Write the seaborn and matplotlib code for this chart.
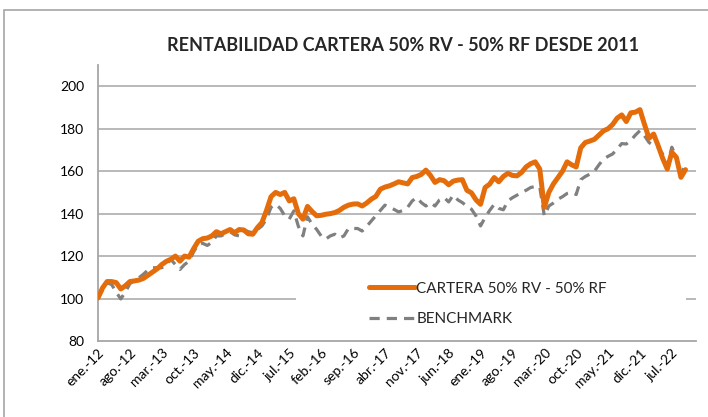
import numpy as np
import pandas as pd
import matplotlib
matplotlib.use('Agg')
import matplotlib.pyplot as plt
from matplotlib.patches import Rectangle
from matplotlib.lines import Line2D
import seaborn as sns

# valores mensuales (base 100 en ene-12)
cartera = [
    100.3, 105.0, 108.0, 108.0, 107.5, 104.5, 106.0, 108.0, 108.3, 108.7,
    109.5, 111.0, 112.5, 114.0, 116.0, 117.5, 118.5, 120.0, 117.6, 120.0,
    119.5, 123.5, 127.0, 128.2, 128.5, 129.5, 131.5, 130.5, 131.5, 132.5,
    131.0, 132.5, 132.3, 130.5, 130.3, 133.4, 135.8, 141.5, 148.0, 150.0,
    149.0, 150.0, 146.0, 147.0, 140.0, 137.4, 143.4, 141.0, 139.0, 139.2,
    139.7, 140.0, 140.5, 141.5, 143.0, 144.0, 144.5, 144.6, 143.6, 145.0,
    146.8, 148.1, 151.5, 152.5, 153.1, 154.0, 155.0, 154.5, 154.0, 157.0,
    157.5, 158.5, 160.5, 158.0, 154.7, 156.0, 155.5, 153.6, 155.3, 155.8,
    156.0, 151.0, 149.8, 146.5, 144.4, 152.3, 153.9, 157.0, 155.0, 157.5,
    159.0, 158.0, 157.8, 159.4, 162.0, 163.5, 164.4, 161.0, 143.0, 150.0,
    154.0, 157.0, 160.0, 164.4, 163.0, 162.0, 171.0, 173.5, 174.2, 175.0,
    177.0, 179.0, 180.0, 182.0, 185.0, 186.5, 183.4, 187.5, 187.8, 189.0,
    182.0, 175.5, 177.5, 172.0, 166.0, 161.0, 168.9, 166.5, 157.1, 160.7,
]

benchmark = [
    100.0, 104.0, 107.4, 106.6, 103.0, 99.8, 103.0, 107.0, 108.5, 109.8,
    111.5, 113.5, 114.5, 114.5, 114.5, 116.0, 118.4, 116.0, 113.7, 116.0,
    117.6, 122.0, 125.5, 126.0, 125.0, 126.5, 129.5, 129.5, 130.5, 131.5,
    130.0, 129.5, 132.5, 131.5, 131.0, 132.5, 134.2, 137.5, 143.0, 144.4,
    142.5, 139.0, 137.4, 141.3, 134.0, 129.5, 138.5, 135.0, 132.6, 129.5,
    128.0, 129.5, 130.3, 128.5, 129.5, 133.0, 133.0, 133.0, 131.8, 134.0,
    136.5, 139.0, 141.5, 144.0, 143.0, 142.0, 140.8, 141.5, 143.0, 146.0,
    147.6, 145.2, 143.6, 145.2, 143.6, 146.5, 147.6, 145.5, 148.7, 146.5,
    145.2, 143.5, 142.1, 138.9, 134.2, 138.2, 141.5, 144.4, 142.5, 141.8,
    146.0, 147.5, 148.7, 150.0, 151.0, 152.3, 152.8, 152.5, 139.0, 143.6,
    145.0, 146.8, 148.0, 149.5, 150.0, 149.0, 156.0, 157.5, 158.6, 160.0,
    163.0, 165.7, 167.0, 168.1, 170.5, 173.0, 172.8, 174.5, 177.0, 179.1,
    176.7, 173.5, 172.0, 171.3, 168.0, 162.6, 171.3, 166.5, 157.8, 164.1,
]

tick_labels = ['ene.-12', 'ago.-12', 'mar.-13', 'oct.-13', 'may.-14', 'dic.-14',
               'jul.-15', 'feb.-16', 'sep.-16', 'abr.-17', 'nov.-17', 'jun.-18',
               'ene.-19', 'ago.-19', 'mar.-20', 'oct.-20', 'may.-21', 'dic.-21',
               'jul.-22']

sns.set_style('white')
plt.rcParams['font.family'] = ['Lato', 'DejaVu Sans']

df = pd.DataFrame({'mes': np.arange(len(cartera)),
                   'cartera': cartera, 'benchmark': benchmark})

fig = plt.figure(figsize=(7.08, 4.17), dpi=100)
ax = fig.add_axes([0.1384, 0.1823, 0.8446, 0.6617])

naranja = '#E46C0A'
gris = '#808080'

sns.lineplot(data=df, x='mes', y='benchmark', ax=ax, color=gris, lw=2.3,
             linestyle=(0, (3.2, 2.2)), zorder=3)
sns.lineplot(data=df, x='mes', y='cartera', ax=ax, color=naranja, lw=3.6,
             solid_capstyle='round', zorder=4)

ax.set_xlim(0, 131.3)
ax.set_ylim(80, 210)
ax.set_yticks(range(80, 201, 20))
ax.set_xticks(np.arange(0, 7 * len(tick_labels), 7))
ax.set_xticklabels(tick_labels, rotation=45, ha='right', rotation_mode='anchor')
ax.tick_params(axis='both', length=0, labelsize=10, colors='black')
ax.tick_params(axis='x', pad=4)
ax.tick_params(axis='y', pad=10)
ax.set_xlabel('')
ax.set_ylabel('')

for v in range(100, 201, 20):
    ax.axhline(v, color='#a6a6a6', lw=1.1, zorder=1)
for s in ['top', 'right']:
    ax.spines[s].set_visible(False)
for s in ['left', 'bottom']:
    ax.spines[s].set_color('#a6a6a6')
    ax.spines[s].set_linewidth(1.3)

# fondo blanco de la leyenda
ax.add_patch(Rectangle((0.331, 0.01), 0.652, 0.26, transform=ax.transAxes,
                       facecolor='white', edgecolor='none', zorder=2))

handles = [Line2D([], [], color=naranja, lw=3.6, solid_capstyle='round'),
           Line2D([], [], color=gris, lw=2.3, linestyle=(0, (3.2, 2.2)))]
leg = ax.legend(handles, ['CARTERA 50% RV - 50% RF', 'BENCHMARK'],
                loc='upper left', bbox_to_anchor=(0.43, 0.265), frameon=False,
                fontsize=11, handlelength=3.0, handletextpad=0.1,
                labelspacing=1.1)

fig.text(0.57, 0.892, 'RENTABILIDAD CARTERA 50% RV - 50% RF DESDE 2011',
         ha='center', va='center', fontsize=13, fontweight='bold')

# borde del grafico
fig.patches.append(Rectangle((4 / 708, -0.1), 1.2, 1.1 - 10 / 417,
                             transform=fig.transFigure, fill=False,
                             edgecolor='#a6a6a6', lw=1.2))

plt.savefig('out.png', dpi=100)
